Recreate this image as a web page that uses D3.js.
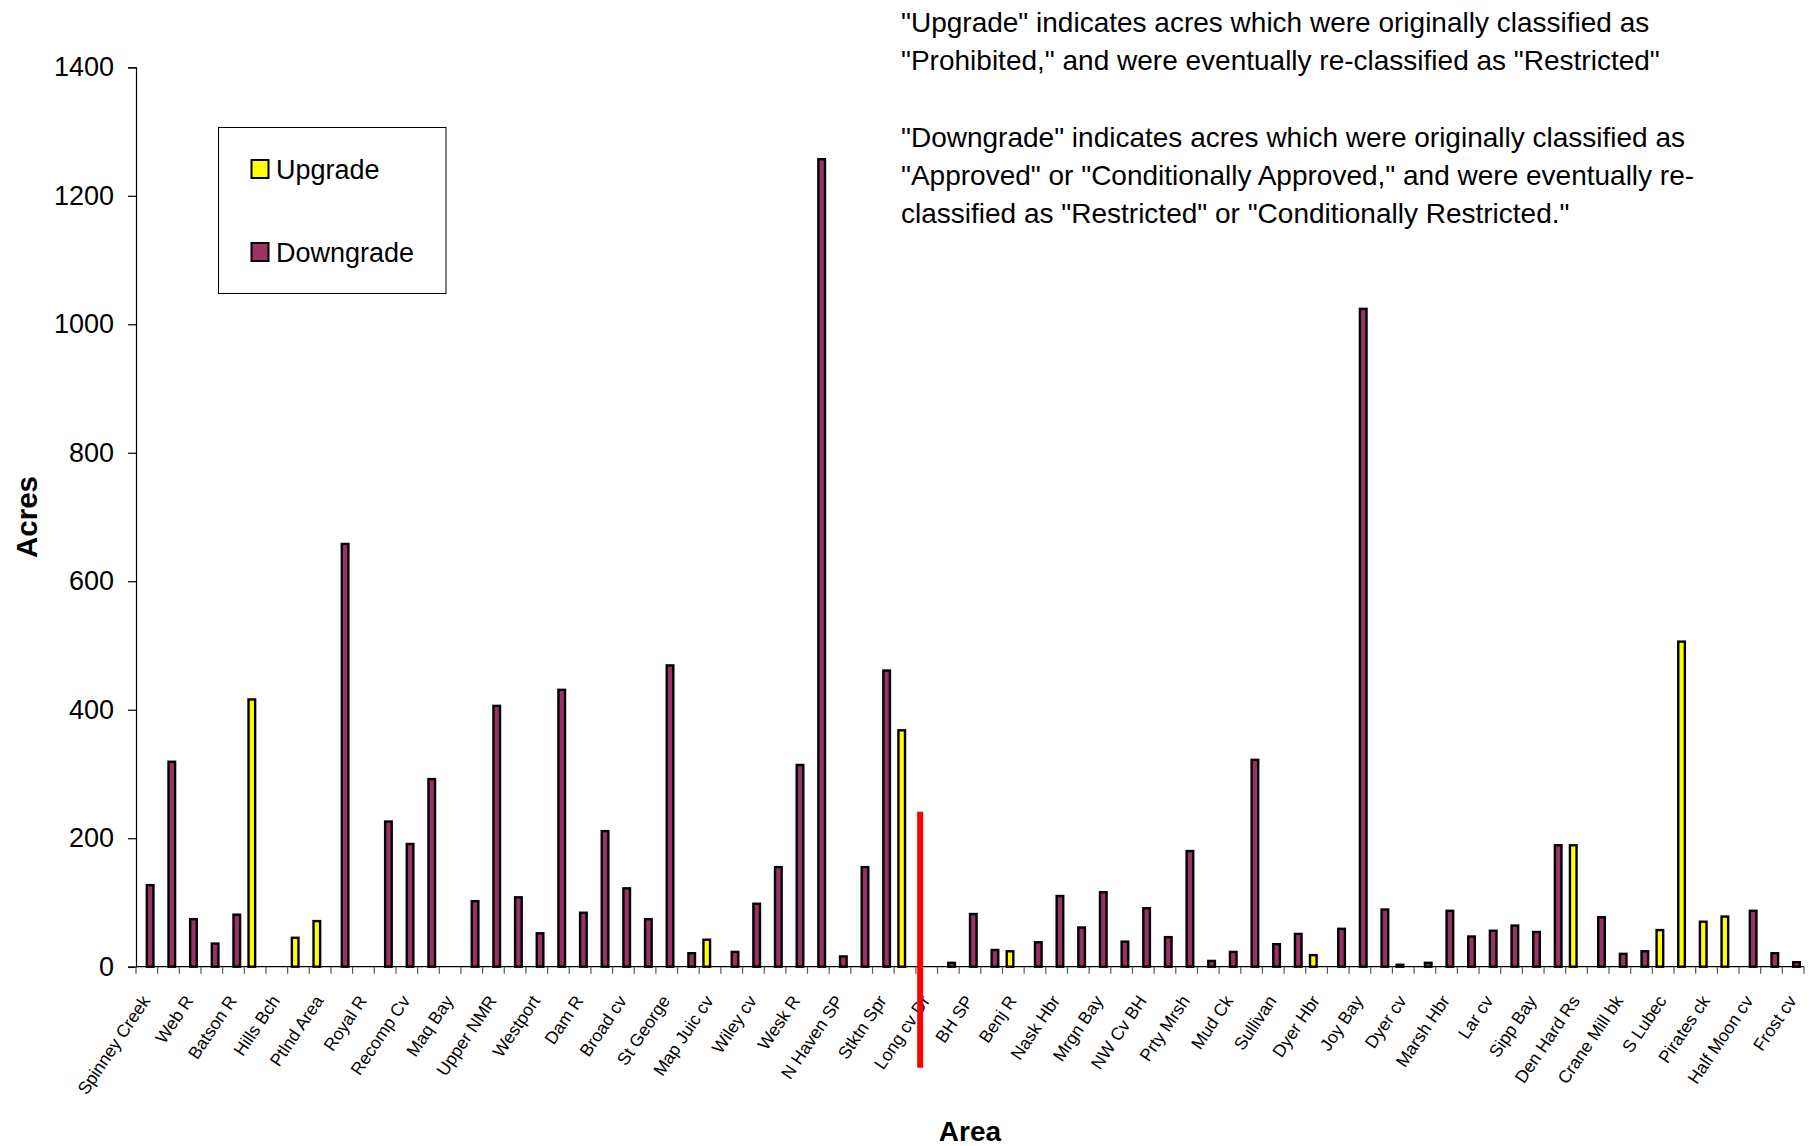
<!DOCTYPE html>
<html>
<head>
<meta charset="utf-8">
<script src="https://cdn.jsdelivr.net/npm/d3@7"></script>
<style>
  html, body { margin: 0; padding: 0; background: #fff; }
  svg { display: block; }
  text { font-family: "Liberation Sans", Arial, sans-serif; fill: #000; }
</style>
</head>
<body>
<svg id="chart" width="1818" height="1146"></svg>
<script>
// Areas in survey order; only every other area name is printed on the axis.
const categories = [
  "Spinney Creek", "", "Web R", "", "Batson R", "", "Hills Bch", "", "Ptlnd Area", "",
  "Royal R", "", "Recomp Cv", "", "Maq Bay", "", "Upper NMR", "", "Westport", "",
  "Dam R", "", "Broad cv", "", "St George", "", "Map Juic cv", "", "Wiley cv", "",
  "Wesk R", "", "N Haven SP", "", "Stktn Spr", "", "Long cv Dr", "", "BH SP", "",
  "Benj R", "", "Nask Hbr", "", "Mrgn Bay", "", "NW Cv BH", "", "Prty Mrsh", "",
  "Mud Ck", "", "Sullivan", "", "Dyer Hbr", "", "Joy Bay", "", "Dyer cv", "",
  "Marsh Hbr", "", "Lar cv", "", "Sipp Bay", "", "Den Hard Rs", "", "Crane Mill bk", "",
  "S Lubec", "", "Pirates ck", "", "Half Moon cv", "", "Frost cv"
];

// Acres re-classified upward (Prohibited -> Restricted)
const upgrade = [
  0, 0, 0, 0, 0, 416, 0, 45, 71, 0,
  0, 0, 0, 0, 0, 0, 0, 0, 0, 0,
  0, 0, 0, 0, 0, 0, 42, 0, 0, 0,
  0, 0, 0, 0, 0, 368, 0, 0, 0, 0,
  24, 0, 0, 0, 0, 0, 0, 0, 0, 0,
  0, 0, 0, 0, 18, 0, 0, 0, 3, 0,
  0, 0, 0, 0, 0, 0, 189, 0, 0, 0,
  57, 506, 70, 78, 0, 0, 0
];

// Acres re-classified downward (Approved -> Restricted)
const downgrade = [
  127, 319, 74, 36, 81, 0, 0, 0, 0, 658,
  0, 226, 191, 292, 0, 102, 406, 108, 52, 431,
  84, 211, 122, 74, 469, 21, 0, 23, 98, 155,
  314, 1257, 16, 155, 461, 0, 0, 6, 82, 26,
  0, 38, 110, 61, 116, 39, 91, 46, 180, 9,
  23, 322, 35, 51, 0, 59, 1024, 89, 0, 6,
  87, 47, 56, 64, 54, 189, 0, 77, 20, 24,
  0, 0, 0, 0, 87, 21, 7
];

const seriesNames = ["Upgrade", "Downgrade"];
const seriesColors = ["#FFFF00", "#993366"];
const yTicks = [0, 200, 400, 600, 800, 1000, 1200, 1400];

const notes = [
  "\"Upgrade\" indicates acres which were originally classified as",
  "\"Prohibited,\" and were eventually re-classified as \"Restricted\"",
  "",
  "\"Downgrade\" indicates acres which were originally classified as",
  "\"Approved\" or \"Conditionally Approved,\" and were eventually re-",
  "classified as \"Restricted\" or \"Conditionally Restricted.\""
];

// Divider between the two groups of areas (category index, acres at its top)
const dividerIndex = 36;
const dividerTop = 241;

const svg = d3.select("#chart");
const plot = { left: 136, right: 1804, top: 67.3, bottom: 966.7 };

const x = d3.scaleBand()
  .domain(d3.range(categories.length))
  .range([plot.left, plot.right])
  .paddingInner(0).paddingOuter(0);

const xs = d3.scaleBand()
  .domain(seriesNames)
  .range([0, x.bandwidth()])
  .paddingInner(0).paddingOuter(0.64);

const y = d3.scaleLinear().domain([0, 1400]).range([plot.bottom, plot.top]);

const color = d3.scaleOrdinal().domain(seriesNames).range(seriesColors);

// Bars
const rows = categories.map((c, i) => ({ i, values: [
  { key: "Upgrade", v: upgrade[i] },
  { key: "Downgrade", v: downgrade[i] }
]}));

const groups = svg.append("g").selectAll("g")
  .data(rows).join("g")
  .attr("transform", d => `translate(${x(d.i)},0)`);

groups.selectAll("rect")
  .data(d => d.values.filter(s => s.v > 0))
  .join("rect")
  .attr("x", s => xs(s.key))
  .attr("width", xs.bandwidth())
  .attr("y", s => y(s.v))
  .attr("height", s => y(0) - y(s.v))
  .attr("fill", s => color(s.key))
  .attr("stroke", "#000")
  .attr("stroke-width", 2.4);

// Y axis
const yAxis = svg.append("g")
  .attr("transform", `translate(${plot.left},0)`)
  .call(d3.axisLeft(y).tickValues(yTicks).tickSize(8).tickPadding(14).tickFormat(d3.format("d")));
yAxis.select(".domain").attr("stroke", "#000").attr("stroke-width", 1.2);
yAxis.selectAll(".tick line").attr("stroke", "#000").attr("stroke-width", 1.2);
yAxis.selectAll(".tick text")
  .style("font-family", "'Liberation Sans', Arial, sans-serif")
  .style("font-size", "27px");

// X axis: tick marks on category boundaries, names on every other category
const xAxisG = svg.append("g").attr("transform", `translate(0,${plot.bottom})`);
xAxisG.append("line")
  .attr("x1", plot.left).attr("x2", plot.right)
  .attr("stroke", "#000").attr("stroke-width", 1.2);
const bounds = d3.range(categories.length + 1).map(i => i < categories.length ? x(i) : x.range()[1]);
xAxisG.selectAll(".btick").data(bounds).join("line")
  .attr("class", "btick")
  .attr("x1", d => d).attr("x2", d => d)
  .attr("y1", 0).attr("y2", 7)
  .attr("stroke", "#555").attr("stroke-width", 1.2);

xAxisG.selectAll(".xlab")
  .data(categories.map((c, i) => ({ c, i })).filter(d => d.c !== ""))
  .join("text")
  .attr("class", "xlab")
  .attr("transform", d => `translate(${x(d.i) + x.bandwidth() / 2 + 4},34) rotate(-56)`)
  .attr("text-anchor", "end")
  .style("font-size", "17.5px")
  .text(d => d.c);

// Axis titles
svg.append("text")
  .attr("x", (plot.left + plot.right) / 2)
  .attr("y", 1141)
  .attr("text-anchor", "middle")
  .style("font-weight", "bold")
  .style("font-size", "28px")
  .text("Area");

svg.append("text")
  .attr("transform", `translate(37,${(plot.top + plot.bottom) / 2}) rotate(-90)`)
  .attr("text-anchor", "middle")
  .style("font-weight", "bold")
  .style("font-size", "29.5px")
  .text("Acres");

// Divider line
svg.append("line")
  .attr("x1", x(dividerIndex) + x.bandwidth() * 0.2)
  .attr("x2", x(dividerIndex) + x.bandwidth() * 0.2)
  .attr("y1", y(dividerTop))
  .attr("y2", y(0) + 101)
  .attr("stroke", "#FF0000")
  .attr("stroke-width", 6);

// Legend
const legend = svg.append("g");
legend.append("rect")
  .attr("x", 218.5).attr("y", 127.5)
  .attr("width", 227.5).attr("height", 166)
  .attr("fill", "#fff").attr("stroke", "#000").attr("stroke-width", 1);
const li = legend.selectAll(".li").data(seriesNames).join("g")
  .attr("class", "li")
  .attr("transform", (d, i) => `translate(0,${i * 83})`);
li.append("rect")
  .attr("x", 251.5).attr("y", 160)
  .attr("width", 17).attr("height", 18)
  .attr("fill", d => color(d))
  .attr("stroke", "#000").attr("stroke-width", 2);
li.append("text")
  .attr("x", 276).attr("y", 178.7)
  .style("font-size", "27px")
  .text(d => d);

// Explanatory notes
svg.append("g").selectAll("text")
  .data(notes).join("text")
  .attr("x", 901)
  .attr("y", (d, i) => 31.7 + i * 38.3)
  .style("font-size", "28px")
  .text(d => d);
</script>
</body>
</html>
